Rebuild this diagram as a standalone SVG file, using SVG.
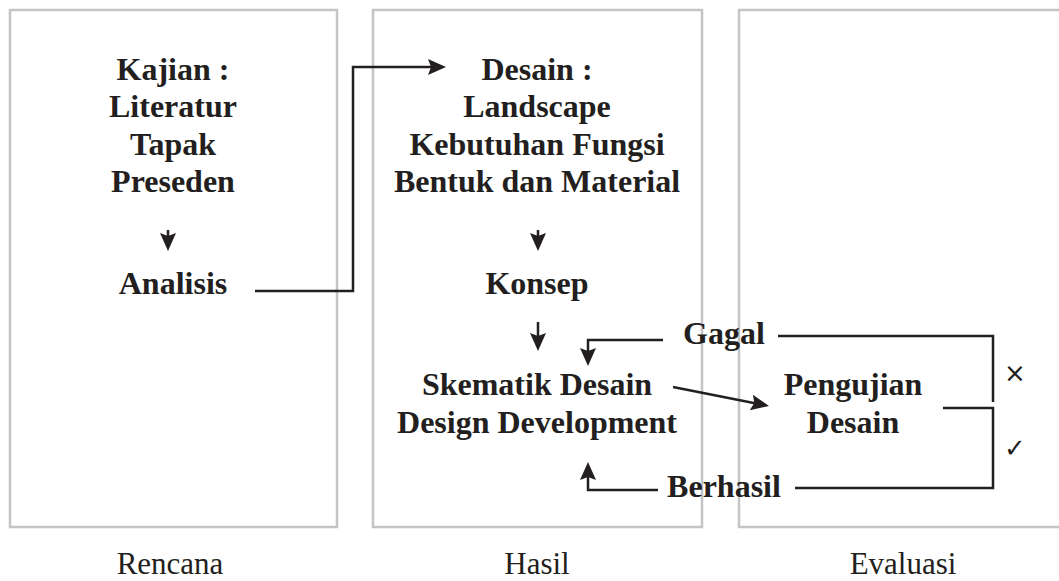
<svg xmlns="http://www.w3.org/2000/svg" width="1059" height="581" viewBox="0 0 1059 581">
<style>
.panel{fill:none;stroke:#c3c4c6;stroke-width:2.5}
.t{font-family:"Liberation Serif","Times New Roman",serif;font-weight:bold;font-size:32px;fill:#231f20;text-anchor:middle}
.lbl{font-family:"Liberation Serif","Times New Roman",serif;font-size:31px;fill:#231f20;text-anchor:middle}
.sym{font-family:"DejaVu Sans",sans-serif;font-size:26px;fill:#231f20;text-anchor:middle}
.c{fill:none;stroke:#231f20;stroke-width:2.5}
.hd{fill:#231f20}
</style>
<defs>
<path id="head" d="M0,0 L-18,-8 L-15,0 L-18,8 z"/>
</defs>
<g id="panels">
<rect id="panel-rencana" class="panel" x="10" y="10" width="327" height="517"/>
<rect id="panel-hasil" class="panel" x="373" y="10" width="329" height="517"/>
<rect id="panel-evaluasi" class="panel" x="739" y="10" width="340" height="517"/>
</g>
<g id="kajian">
<text class="t" x="173" y="80">Kajian :</text>
<text class="t" x="173" y="117">Literatur</text>
<text class="t" x="173" y="155">Tapak</text>
<text class="t" x="173" y="192">Preseden</text>
</g>
<g id="analisis"><text class="t" x="173" y="294">Analisis</text></g>
<g id="desain">
<text class="t" x="537" y="80">Desain :</text>
<text class="t" x="537" y="117">Landscape</text>
<text class="t" x="537" y="155">Kebutuhan Fungsi</text>
<text class="t" x="537" y="192">Bentuk dan Material</text>
</g>
<g id="konsep"><text class="t" x="537" y="294">Konsep</text></g>
<g id="skematik">
<text class="t" x="537" y="395">Skematik Desain</text>
<text class="t" x="537" y="433">Design Development</text>
</g>
<g id="pengujian">
<text class="t" x="853" y="395">Pengujian</text>
<text class="t" x="853" y="433">Desain</text>
</g>
<g id="labels">
<text class="lbl" x="170" y="574">Rencana</text>
<text class="lbl" x="537" y="574">Hasil</text>
<text class="lbl" x="903" y="574">Evaluasi</text>
</g>
<g id="connectors">
<path class="c" d="M168,230 V237"/>
<use href="#head" class="hd" transform="translate(168,251) rotate(90)"/>
<path class="c" d="M538,230 V237"/>
<use href="#head" class="hd" transform="translate(538,251) rotate(90)"/>
<path class="c" d="M538,322 V337"/>
<use href="#head" class="hd" transform="translate(538,351) rotate(90)"/>
<path class="c" d="M255,291 H353 V67 H431"/>
<use href="#head" class="hd" transform="translate(446,67)"/>
<path class="c" d="M663,340 H588 V352"/>
<use href="#head" class="hd" transform="translate(588,366) rotate(90)"/>
<path class="c" d="M658,490 H588 V476"/>
<use href="#head" class="hd" transform="translate(588,462) rotate(-90)"/>
<path class="c" d="M673,387 L755,403.3"/>
<use href="#head" class="hd" transform="translate(769,406) rotate(11.3)"/>
<path class="c" d="M778,336 H993 V402"/>
<path class="c" d="M943,408 H993 V488 H795"/>
<text class="t" x="724" y="344">Gagal</text>
<text class="t" x="724" y="497">Berhasil</text>
<text class="sym" x="1015" y="382">×</text>
<text class="sym" x="1015" y="457">✓</text>
</g>
</svg>
